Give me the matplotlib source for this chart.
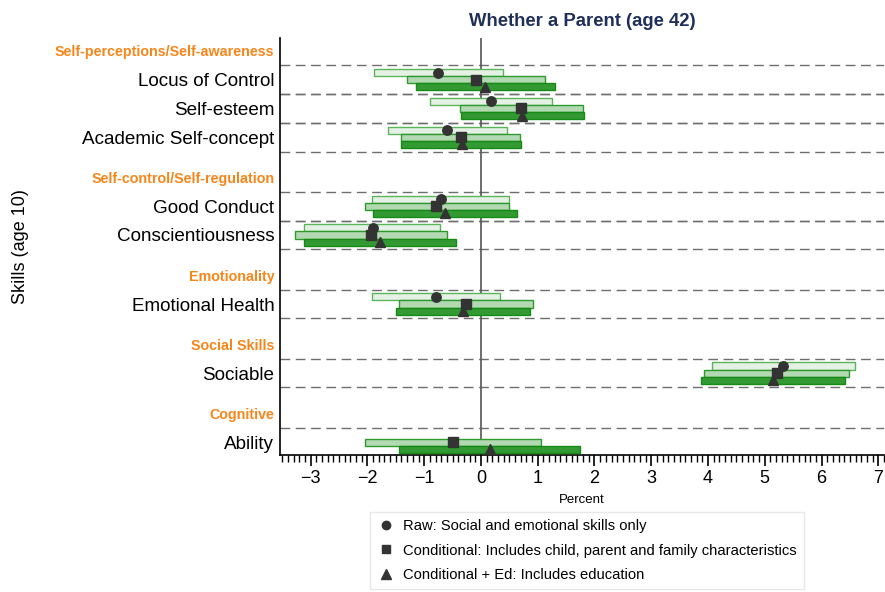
import numpy as np
import matplotlib
matplotlib.use("Agg")
import matplotlib.pyplot as plt
from matplotlib.lines import Line2D
from matplotlib.ticker import MultipleLocator

plt.rcParams['font.family'] = ['Liberation Sans', 'DejaVu Sans']

# ---- data ----
groups = ["Self-perceptions/Self-awareness", "Self-control/Self-regulation",
          "Emotionality", "Social Skills", "Cognitive"]
group_skills = [["Locus of Control", "Self-esteem", "Academic Self-concept"],
                ["Good Conduct", "Conscientiousness"],
                ["Emotional Health"],
                ["Sociable"],
                ["Ability"]]
skills = [s for g in group_skills for s in g]

raw_est = [-0.75, 0.18, -0.59, -0.71, -1.91, -0.79, 5.32, np.nan]
raw_lo = [-1.89, -0.90, -1.64, -1.92, -3.12, -1.92, 4.07, np.nan]
raw_hi = [0.39, 1.26, 0.46, 0.50, -0.72, 0.34, 6.59, np.nan]

cond_est = [-0.08, 0.71, -0.36, -0.79, -1.94, -0.26, 5.21, -0.50]
cond_lo = [-1.30, -0.37, -1.41, -2.05, -3.27, -1.44, 3.93, -2.05]
cond_hi = [1.13, 1.80, 0.68, 0.50, -0.60, 0.91, 6.48, 1.05]

ed_est = [0.07, 0.73, -0.34, -0.63, -1.78, -0.31, 5.15, 0.16]
ed_lo = [-1.15, -0.36, -1.40, -1.90, -3.11, -1.50, 3.87, -1.44]
ed_hi = [1.30, 1.82, 0.71, 0.64, -0.44, 0.87, 6.42, 1.75]

legend_labels = ["Raw: Social and emotional skills only",
                 "Conditional: Includes child, parent and family characteristics",
                 "Conditional + Ed: Includes education"]

# ---- layout positions ----
header_pos, skill_pos = [], []
p = 0.0
for g, sk in zip(groups, group_skills):
    header_pos.append(p)
    p += 1
    for s in sk:
        skill_pos.append(p)
        p += 1
    p += 0.4
skill_pos = np.array(skill_pos)

fig = plt.figure(figsize=(8.85, 5.92), dpi=100)
ax = fig.add_axes([280/885, 1-455/592, 604/885, (455-38)/592])

series = [
    (raw_est, raw_lo, raw_hi, -0.245, "#e6f1e6", "#5ab45a", "o", 6.8),
    (cond_est, cond_lo, cond_hi, 0.0, "#b2d9b2", "#2e9a2e", "s", 6.5),
    (ed_est, ed_lo, ed_hi, 0.245, "#339933", "#168a16", "^", 7.8),
]
bh = 0.245
for est, lo, hi, off, fc, ec, mk, ms in series:
    est = np.array(est); lo = np.array(lo); hi = np.array(hi)
    ok = ~np.isnan(est)
    ax.barh(skill_pos[ok] + off, (hi - lo)[ok], left=lo[ok], height=bh,
            color=fc, edgecolor=ec, linewidth=1.0, zorder=3)
    ax.plot(est[ok], skill_pos[ok] + off, linestyle='none', marker=mk,
            markersize=ms, color="#333333", zorder=5)

for y in skill_pos:
    for yy in (y - 0.5, y + 0.5):
        ax.axhline(yy, color="#6e6e6e", lw=1.0, dashes=(7, 4), zorder=1)

ax.axvline(0, color="#555555", lw=1.2, zorder=2)

ax.set_xlim(-3.54, 7.1)
ax.set_ylim(14.05, -0.45)

ticks = list(header_pos) + list(skill_pos)
labels = list(groups) + skills
ax.set_yticks(ticks)
ax.set_yticklabels(labels)
for t, lab in zip(ax.get_yticklabels(), labels):
    if lab in groups:
        t.set_color("#f7861a")
        t.set_fontweight("bold")
        t.set_fontsize(10.3)
    else:
        t.set_fontsize(13.6)
ax.tick_params(axis='y', length=0, pad=4)

ax.xaxis.set_major_locator(MultipleLocator(1))
ax.xaxis.set_minor_locator(MultipleLocator(0.1))
ax.tick_params(axis='x', which='major', length=8, width=1.2, labelsize=13, pad=3)
ax.tick_params(axis='x', which='minor', length=5, width=1.0)

for s in ("top", "right"):
    ax.spines[s].set_visible(False)
ax.spines['left'].set_linewidth(1.2)
ax.spines['bottom'].set_linewidth(1.2)

ax.set_xlabel("Percent", fontsize=9.5, labelpad=5)
ax.set_ylabel("Skills (age 10)", fontsize=13)
ax.yaxis.set_label_coords(-251/604, 0.5)
ax.set_title("Whether a Parent (age 42)", fontsize=13.3, fontweight='bold',
             color="#1f2f5c", pad=9)

handles = [Line2D([], [], linestyle='none', marker=m, color="#333333", markersize=ms)
           for m, ms in (("o", 6), ("s", 6), ("^", 7))]
leg = fig.legend(handles, legend_labels, loc='center',
                 bbox_to_anchor=(587/885, 1-550.5/592), fontsize=10.6,
                 frameon=True, fancybox=False, edgecolor="#e3e3e3",
                 handletextpad=0.6, labelspacing=0.72, borderpad=0.5,
                 handlelength=1.2)
leg.get_frame().set_linewidth(1.0)

fig.savefig("out.png", dpi=100)
